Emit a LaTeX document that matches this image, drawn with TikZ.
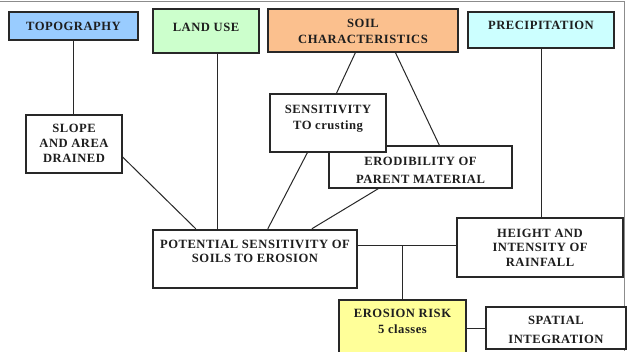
\documentclass[tikz,border=0pt]{standalone}
\usepackage{fontspec}
\setmainfont{Liberation Serif}[LetterSpace=4]
\usetikzlibrary{calc}
\definecolor{topoc}{RGB}{153,204,255}
\definecolor{landc}{RGB}{204,255,204}
\definecolor{soilc}{RGB}{251,192,142}
\definecolor{precc}{RGB}{204,255,255}
\definecolor{riskc}{RGB}{255,255,153}
\definecolor{edgec}{RGB}{40,40,40}
\definecolor{txtc}{RGB}{30,30,30}
\newcommand\bxt[5]{\begin{minipage}[c][#2pt][t]{#1pt}\centering\fontsize{12.6}{#4}\selectfont\bfseries\vspace*{#3pt}#5\par\end{minipage}}
\tikzset{
  bx/.style={draw=edgec, line width=1.2pt, fill=white, inner sep=0pt, text=txtc},
  thickbx/.style={bx, line width=2.4pt},
  link/.style={draw=edgec, line width=1pt}
}
\begin{document}
\begin{tikzpicture}[x=1pt,y=-1pt]
\useasboundingbox (0,0) rectangle (628,351);
\clip (0,0) rectangle (628,351);
\fill[white] (0,0) rectangle (628,351);
\draw[black!45, line width=1pt] (0,1.5) -- (624,1.5) -- (624,351);
% top row
\node[bx, fill=topoc] (topo) at (73.5,26) {\bxt{129}{28}{10.5}{15}{TOPOGRAPHY}};
\node[bx, fill=landc] (land) at (206,31) {\bxt{106}{44}{13.7}{15}{LAND USE}};
\node[bx, fill=soilc] (soil) at (363,30.5) {\bxt{190}{43}{9.8}{16}{SOIL\\CHARACTERISTICS}};
\node[bx, fill=precc] (prec) at (541,30) {\bxt{146}{36}{9}{15}{PRECIPITATION}};
% middle
\node[bx] (slope) at (74,144) {\bxt{96}{58}{9.5}{15}{SLOPE\\AND AREA\\DRAINED}};
\node[bx] (erod) at (420.5,167) {\bxt{183}{42}{11}{18}{ERODIBILITY OF\\PARENT MATERIAL}};
\node[bx] (sens) at (328,123) {\bxt{116}{58}{11.5}{16}{SENSITIVITY\\TO crusting}};
\node[thickbx] (pot) at (255,259) {\bxt{204}{58}{10.5}{14}{POTENTIAL SENSITIVITY OF\\SOILS TO EROSION}};
\node[bx] (height) at (540,247.5) {\bxt{166}{59}{11}{14.5}{HEIGHT AND\\INTENSITY OF\\RAINFALL}};
% bottom
\node[bx, fill=riskc] (risk) at (402.5,327.5) {\bxt{127}{55}{9.5}{16}{EROSION RISK\\5 classes}};
\node[bx] (spat) at (556,328) {\bxt{140}{42}{9.5}{19}{SPATIAL\\INTEGRATION}};
% connectors
\draw[link] (topo.south) -- (topo.south |- slope.north);
\draw[link] ($(slope.east)+(0,13)$) -- ($(pot.north west)+(44,0)$);
\draw[link] ($(land.south west)+(65,0)$) coordinate (lu) -- (lu |- pot.north);
\draw[link] ($(soil.south west)+(88,0)$) -- ($(sens.north west)+(67,0)$);
\draw[link] ($(soil.south west)+(128,0)$) -- ($(erod.north west)+(111,0)$);
\draw[link] ($(sens.south west)+(38,0)$) -- ($(pot.north west)+(116,0)$);
\draw[link] ($(erod.south west)+(50,0)$) -- ($(pot.north west)+(160,0)$);
\draw[link] (prec.south) -- (prec.south |- height.north);
\draw[link] ($(pot.east)+(0,-14)$) coordinate (pe) -- (pe -| height.west);
\draw[link] (risk.north) -- (risk.north |- pe);
\draw[link] (spat.west) -- (spat.west -| risk.east);
\end{tikzpicture}
\end{document}
